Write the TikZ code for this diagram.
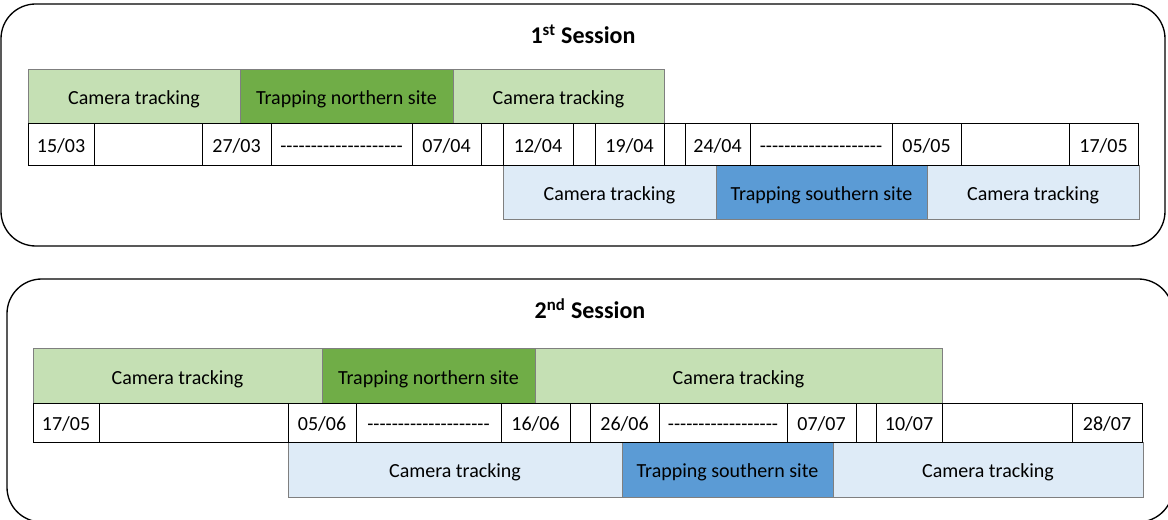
\documentclass[tikz,border=0pt]{standalone}
\usepackage{fontspec}
\setmainfont{Carlito}
\definecolor{lightgreen}{HTML}{C5E0B4}
\definecolor{darkgreen}{HTML}{70AD47}
\definecolor{lightblue}{HTML}{DEEBF7}
\definecolor{darkblue}{HTML}{5B9BD5}
\definecolor{barline}{HTML}{7F7F7F}
% a row of plain hyphens (kerns keep them from merging into dashes)
\newcommand\hy[1]{\foreach\k in {1,...,#1}{-\kern0pt}}
% block: style, x1, y1, x2, y2, name, text
\newcommand\blk[7]{\node[#1, minimum width={(#4-#2)*0.75pt}, minimum height={(#5-#3)*0.75pt}] (#6) at (#2,#3) {#7};}
\tikzset{
  every node/.style={inner sep=0pt, outer sep=0pt, anchor=north west,
    font=\fontsize{15}{18}\selectfont, text height=12pt, text depth=0pt},
  lg/.style={draw=barline, line width=0.75pt, fill=lightgreen},
  dg/.style={draw=barline, line width=0.75pt, fill=darkgreen},
  lb/.style={draw=barline, line width=0.75pt, fill=lightblue},
  db/.style={draw=barline, line width=0.75pt, fill=darkblue},
  datecell/.style={draw=black, line width=0.75pt, fill=white},
  session/.style={draw=black, line width=1pt, rounded corners=26pt},
  title/.style={anchor=base, font=\fontsize{18}{22}\selectfont\bfseries, text height=, text depth=},
}
\begin{document}
\begin{tikzpicture}[x=0.75pt, y=-0.75pt]
\useasboundingbox (0,0) rectangle (1168,520);
\clip (0,0) rectangle (1168,520);

% session frames
\draw[session] (1,4) rectangle (1165,246);
\draw[session] (7,279) rectangle (1173,522);

% ---------- first session ----------
\node[title] (t1) at (583,43.5) {1\textsuperscript{st} Session};

\blk{lg}{28}{70}{240}{124}{a1}{Camera tracking}
\blk{dg}{240}{70}{453}{124}{a2}{Trapping northern site}
\blk{lg}{453}{70}{664}{124}{a3}{Camera tracking}

\blk{lb}{503}{166}{716}{220}{b1}{Camera tracking}
\blk{db}{716}{166}{927}{220}{b2}{Trapping southern site}
\blk{lb}{927}{166}{1139}{220}{b3}{Camera tracking}

\blk{datecell}{28}{124}{94}{166}{d1}{15/03}
\blk{datecell}{94}{124}{202}{166}{d2}{}
\blk{datecell}{202}{124}{271}{166}{d3}{27/03}
\blk{datecell}{271}{124}{412}{166}{d4}{\hy{20}}
\blk{datecell}{412}{124}{481}{166}{d5}{07/04}
\blk{datecell}{481}{124}{503}{166}{d6}{}
\blk{datecell}{503}{124}{573}{166}{d7}{12/04}
\blk{datecell}{573}{124}{595}{166}{d8}{}
\blk{datecell}{595}{124}{664}{166}{d9}{19/04}
\blk{datecell}{664}{124}{685}{166}{d10}{}
\blk{datecell}{685}{124}{750}{166}{d11}{24/04}
\blk{datecell}{750}{124}{892}{166}{d12}{\hy{20}}
\blk{datecell}{892}{124}{961}{166}{d13}{05/05}
\blk{datecell}{961}{124}{1069}{166}{d14}{}
\blk{datecell}{1069}{124}{1138}{166}{d15}{17/05}

% ---------- second session ----------
\node[title] (t2) at (590,318.5) {2\textsuperscript{nd} Session};

\blk{lg}{33}{349}{322}{404}{c1}{Camera tracking}
\blk{dg}{322}{349}{535}{404}{c2}{Trapping northern site}
\blk{lg}{535}{349}{942}{404}{c3}{Camera tracking}

\blk{lb}{288}{442}{622}{497}{e1}{Camera tracking}
\blk{db}{622}{442}{833}{497}{e2}{Trapping southern site}
\blk{lb}{833}{442}{1143}{497}{e3}{Camera tracking}

\blk{datecell}{33}{404}{99}{442}{f1}{17/05}
\blk{datecell}{99}{404}{288}{442}{f2}{}
\blk{datecell}{288}{404}{356}{442}{f3}{05/06}
\blk{datecell}{356}{404}{501}{442}{f4}{\hy{20}}
\blk{datecell}{501}{404}{570}{442}{f5}{16/06}
\blk{datecell}{570}{404}{590}{442}{f6}{}
\blk{datecell}{590}{404}{659}{442}{f7}{26/06}
\blk{datecell}{659}{404}{787}{442}{f8}{\hy{18}}
\blk{datecell}{787}{404}{856}{442}{f9}{07/07}
\blk{datecell}{856}{404}{876}{442}{f10}{}
\blk{datecell}{876}{404}{942}{442}{f11}{10/07}
\blk{datecell}{942}{404}{1072}{442}{f12}{}
\blk{datecell}{1072}{404}{1142}{442}{f13}{28/07}
\end{tikzpicture}
\end{document}
